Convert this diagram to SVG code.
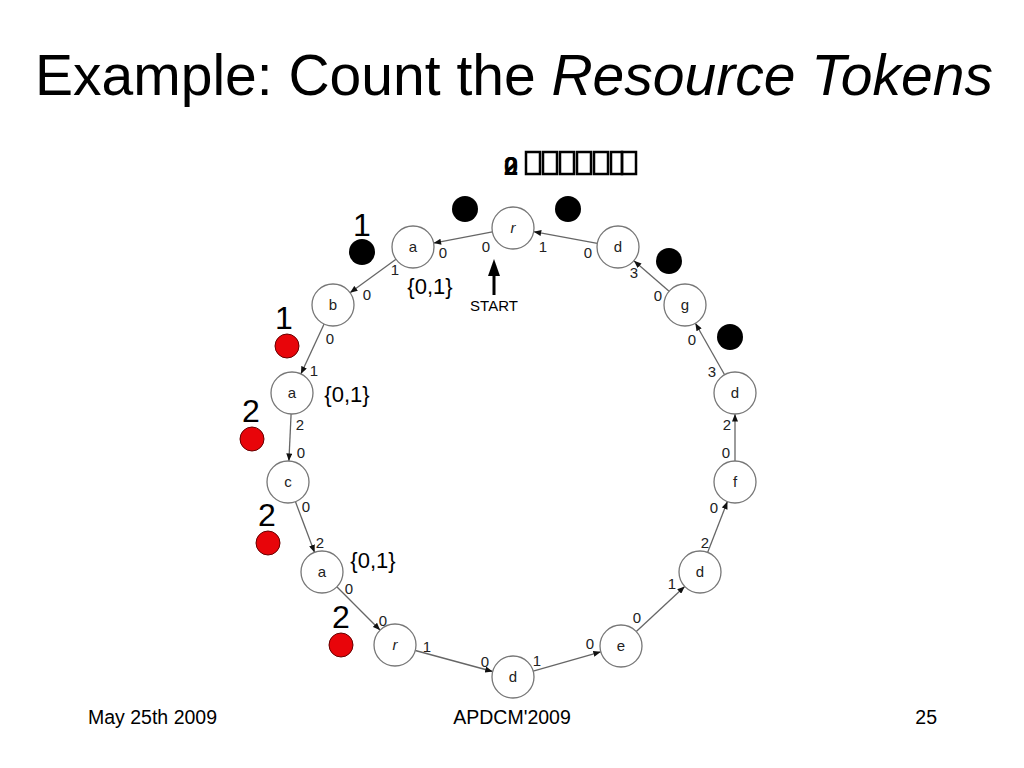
<svg xmlns="http://www.w3.org/2000/svg" width="1024" height="768" viewBox="0 0 1024 768">
<style>
.title{font-family:"Liberation Sans",Arial,sans-serif;font-size:57px;fill:#000}
.foot{font-family:"Liberation Sans",Arial,sans-serif;font-size:19.5px;fill:#000}
.node circle{fill:#fff;stroke:#777;stroke-width:1.3}
.node text{font-family:"Liberation Sans",Arial,sans-serif;font-size:15px;fill:#222;text-anchor:middle}
.lbl{font-family:"Liberation Sans",Arial,sans-serif;font-size:15px;fill:#222;text-anchor:middle}
.edge line{stroke:#666;stroke-width:1.3;marker-end:url(#ah)}
.big{font-family:"Liberation Sans",Arial,sans-serif;font-size:32px;fill:#000;text-anchor:middle}
.set{font-family:"Liberation Sans",Arial,sans-serif;font-size:22px;fill:#000;text-anchor:middle}
.blk{fill:#000}
.red{fill:#e8050a;stroke:#600;stroke-width:1}
</style>
<defs>
<marker id="ah" viewBox="0 0 10 8" refX="10" refY="4" markerWidth="8" markerHeight="6" markerUnits="userSpaceOnUse" orient="auto">
<path d="M0,0 L10,4 L0,8 z" fill="#111"/>
</marker>
</defs>
<rect width="1024" height="768" fill="#fff"/>
<text class="title" x="35" y="95">Example: Count the <tspan font-style="italic">Resource Tokens</tspan></text>

<g id="garbled">
<text x="511" y="175" font-family="Liberation Sans,Arial,sans-serif" font-size="26" font-weight="bold" text-anchor="middle">0</text>
<text x="511" y="175" font-family="Liberation Sans,Arial,sans-serif" font-size="26" font-weight="bold" text-anchor="middle">2</text>
<g fill="none" stroke="#000" stroke-width="2.5">
<rect x="526" y="152" width="14" height="22"/>
<rect x="543" y="152" width="14" height="22"/>
<rect x="560" y="152" width="14" height="22"/>
<rect x="577" y="152" width="14" height="22"/>
<rect x="594" y="152" width="14" height="22"/>
<rect x="611" y="152" width="11" height="22"/>
<rect x="622" y="152" width="14" height="22"/>
</g>
</g>

<g id="connectors" class="edge">
<line x1="492.4" y1="231.9" x2="433.6" y2="243.1"/>
<line x1="396.0" y1="259.3" x2="350.0" y2="292.7"/>
<line x1="324.1" y1="324.0" x2="300.9" y2="374.0"/>
<line x1="291.1" y1="414.0" x2="288.9" y2="461.0"/>
<line x1="295.4" y1="501.6" x2="314.6" y2="552.4"/>
<line x1="336.8" y1="586.8" x2="380.2" y2="630.2"/>
<line x1="415.3" y1="650.5" x2="492.7" y2="671.5"/>
<line x1="533.2" y1="671.2" x2="600.8" y2="651.8"/>
<line x1="636.3" y1="631.6" x2="684.7" y2="586.4"/>
<line x1="707.6" y1="552.4" x2="727.4" y2="501.6"/>
<line x1="735" y1="461" x2="735" y2="414"/>
<line x1="724.6" y1="374.7" x2="695.4" y2="323.3"/>
<line x1="669.1" y1="291.2" x2="633.9" y2="260.8"/>
<line x1="597.3" y1="243.3" x2="533.7" y2="231.7"/>
</g>

<g id="edge-labels" class="lbl">
<text x="486" y="252">0</text><text x="443" y="258">0</text>
<text x="395" y="275">1</text><text x="367" y="300">0</text>
<text x="330" y="344">0</text><text x="314" y="376">1</text>
<text x="300" y="430">2</text><text x="301" y="458">0</text>
<text x="306" y="512">0</text><text x="320" y="548">2</text>
<text x="349" y="594">0</text><text x="383" y="626">0</text>
<text x="427" y="652">1</text><text x="485" y="667">0</text>
<text x="537" y="666">1</text><text x="590" y="649">0</text>
<text x="637" y="623">0</text><text x="672" y="589">1</text>
<text x="705" y="548">2</text><text x="714" y="513">0</text>
<text x="726" y="458">0</text><text x="727" y="430">2</text>
<text x="712" y="377">3</text><text x="692" y="345">0</text>
<text x="658" y="301">0</text><text x="634" y="278">3</text>
<text x="543" y="252">1</text><text x="588" y="258">0</text>
</g>

<g id="n-r1" class="node"><circle cx="513" cy="228" r="21"/><text x="513" y="233" font-style="italic">r</text></g>
<g id="n-a1" class="node"><circle cx="413" cy="247" r="21"/><text x="413" y="252">a</text></g>
<g id="n-b" class="node"><circle cx="333" cy="305" r="21"/><text x="333" y="310">b</text></g>
<g id="n-a2" class="node"><circle cx="292" cy="393" r="21"/><text x="292" y="398">a</text></g>
<g id="n-c" class="node"><circle cx="288" cy="482" r="21"/><text x="288" y="487">c</text></g>
<g id="n-a3" class="node"><circle cx="322" cy="572" r="21"/><text x="322" y="577">a</text></g>
<g id="n-r2" class="node"><circle cx="395" cy="645" r="21"/><text x="395" y="650" font-style="italic">r</text></g>
<g id="n-d1" class="node"><circle cx="513" cy="677" r="21"/><text x="513" y="682">d</text></g>
<g id="n-e" class="node"><circle cx="621" cy="646" r="21"/><text x="621" y="651">e</text></g>
<g id="n-d2" class="node"><circle cx="700" cy="572" r="21"/><text x="700" y="577">d</text></g>
<g id="n-f" class="node"><circle cx="735" cy="482" r="21"/><text x="735" y="487">f</text></g>
<g id="n-d3" class="node"><circle cx="735" cy="393" r="21"/><text x="735" y="398">d</text></g>
<g id="n-g" class="node"><circle cx="685" cy="305" r="21"/><text x="685" y="310">g</text></g>
<g id="n-d4" class="node"><circle cx="618" cy="247" r="21"/><text x="618" y="252">d</text></g>

<g id="start">
<line x1="494" y1="295" x2="494" y2="272" stroke="#000" stroke-width="3"/>
<path d="M494,259 L500,276 L488,276 z" fill="#000"/>
<text x="494" y="311" font-family="Liberation Sans,Arial,sans-serif" font-size="15" text-anchor="middle">START</text>
</g>

<g id="sets" class="set">
<text x="430" y="294">{0,1}</text>
<text x="347" y="402">{0,1}</text>
<text x="373" y="568">{0,1}</text>
</g>

<g id="tokens">
<circle class="blk" cx="465" cy="209" r="13"/>
<circle class="blk" cx="568" cy="209" r="13"/>
<circle class="blk" cx="362" cy="252" r="13"/>
<circle class="blk" cx="669" cy="261" r="13"/>
<circle class="blk" cx="730" cy="337" r="13"/>
<circle class="red" cx="287" cy="346" r="12"/>
<circle class="red" cx="252" cy="439" r="12"/>
<circle class="red" cx="268" cy="543" r="12"/>
<circle class="red" cx="341" cy="645" r="12"/>
<text class="big" x="362" y="236">1</text>
<text class="big" x="284" y="329">1</text>
<text class="big" x="251" y="422">2</text>
<text class="big" x="267" y="526">2</text>
<text class="big" x="341" y="628">2</text>
</g>

<text class="foot" x="88" y="724">May 25th 2009</text>
<text class="foot" x="512" y="724" text-anchor="middle">APDCM'2009</text>
<text class="foot" x="937" y="724" text-anchor="end">25</text>
</svg>
